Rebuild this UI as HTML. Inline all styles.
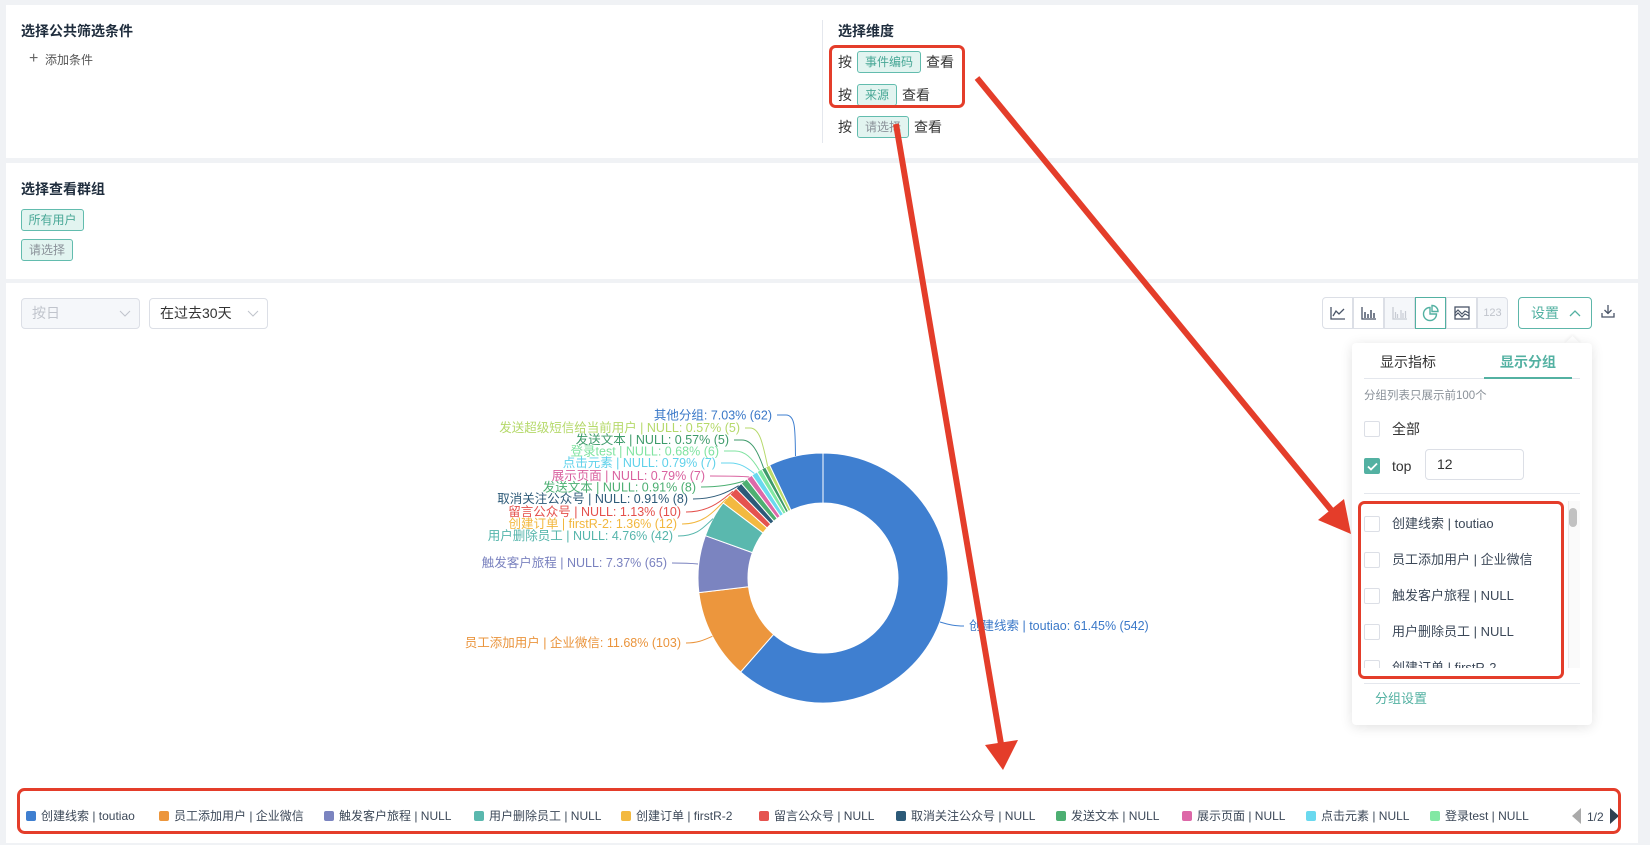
<!DOCTYPE html>
<html><head><meta charset="utf-8">
<style>
*{box-sizing:border-box}
body{margin:0;width:1650px;height:845px;background:#f0f2f5;position:relative;overflow:hidden;font-family:"Liberation Sans","Noto Sans CJK SC",sans-serif;color:#333}
.a{position:absolute;white-space:nowrap}
.panel{position:absolute;left:6px;width:1632px;background:#fff}
.h{font-size:14px;font-weight:bold;color:#1f2d3d;line-height:20px}
.tag{position:absolute;height:22px;line-height:20px;font-size:12px;border:1px solid #62bcae;background:#e2f4f0;color:#48a796;border-radius:3px;text-align:center}
.tag.g{color:#8a9199}
.t14{font-size:14px;line-height:20px;color:#333}
.sel{position:absolute;height:31px;border:1px solid #dcdfe6;border-radius:4px;font-size:14px;line-height:29px;padding-left:10px}
.btn{position:absolute;top:297px;width:31px;height:32px;border:1px solid #dcdfe6;background:#fff}
.cb{position:absolute;width:16px;height:16px;border:1px solid #dcdfe6;border-radius:2px;background:#fff}
.lg{position:absolute;top:807px;font-size:12px;line-height:18px;color:#3c4858;white-space:nowrap}
.lg i{position:absolute;left:0;top:4px;width:10px;height:10px;border-radius:2px}
.lg span{position:absolute;left:15px;top:0}
.row{position:absolute;left:12px;height:20px;width:200px}
.row .cb{left:0;top:2px}
.row span{position:absolute;left:28px;top:0;font-size:13px;line-height:20px;color:#3c4858;white-space:nowrap}
</style></head><body>

<!-- panel 1 -->
<div class="panel" style="top:5px;height:153px"></div>
<div class="a h" style="left:21px;top:21px">选择公共筛选条件</div>
<div class="a" style="left:29px;top:49px;font-size:16px;line-height:20px;color:#666">+</div>
<div class="a" style="left:45px;top:50px;font-size:12px;line-height:20px;color:#555">添加条件</div>
<div class="a" style="left:822px;top:20px;width:1px;height:123px;background:#e4e7ed"></div>
<div class="a h" style="left:838px;top:21px">选择维度</div>
<div class="a t14" style="left:838px;top:52px">按</div>
<div class="tag" style="left:857px;top:51px;width:64px">事件编码</div>
<div class="a t14" style="left:926px;top:52px">查看</div>
<div class="a t14" style="left:838px;top:85px">按</div>
<div class="tag" style="left:857px;top:84px;width:40px">来源</div>
<div class="a t14" style="left:902px;top:85px">查看</div>
<div class="a t14" style="left:838px;top:117px">按</div>
<div class="tag g" style="left:857px;top:116px;width:52px">请选择</div>
<div class="a t14" style="left:914px;top:117px">查看</div>

<!-- panel 2 -->
<div class="panel" style="top:163px;height:116px"></div>
<div class="a h" style="left:21px;top:179px">选择查看群组</div>
<div class="tag" style="left:21px;top:209px;width:63px">所有用户</div>
<div class="tag g" style="left:21px;top:239px;width:52px">请选择</div>

<!-- panel 3 -->
<div class="panel" style="top:283px;height:560px"></div>
<div class="sel" style="left:21px;top:298px;width:119px;background:#f5f7fa;color:#c0c4cc">按日
<svg class="a" style="right:8px;top:11px" width="12" height="8"><polyline points="1,1 6,6 11,1" fill="none" stroke="#c0c4cc" stroke-width="1"/></svg></div>
<div class="sel" style="left:149px;top:298px;width:119px;color:#333">在过去30天
<svg class="a" style="right:8px;top:11px" width="12" height="8"><polyline points="1,1 6,6 11,1" fill="none" stroke="#c0c4cc" stroke-width="1"/></svg></div>

<!-- toolbar -->
<div class="btn" style="left:1322px;border-radius:4px 0 0 4px"><svg width="29" height="30"><path d="M8 9V21H22" fill="none" stroke="#4a5568" stroke-width="1.3"/><polyline points="10,18 13,13 16,16 21,11" fill="none" stroke="#4a5568" stroke-width="1.3"/></svg></div>
<div class="btn" style="left:1353px"><svg width="29" height="30"><path d="M8 9V21H22" fill="none" stroke="#4a5568" stroke-width="1.3"/><path d="M11 20V14M14 20V16M17 20V12M20 20V15" stroke="#4a5568" stroke-width="1.5"/></svg></div>
<div class="btn" style="left:1384px;background:#f5f7fa"><svg width="29" height="30"><path d="M8 9V21H22" fill="none" stroke="#c8ccd4" stroke-width="1.3"/><path d="M10.5 20V14M12.5 20V16M16 20V12M18 20V15M20.5 20V13" stroke="#c8ccd4" stroke-width="1.2"/></svg></div>
<div class="btn" style="left:1415px;border-color:#53b1a2;z-index:2"><svg width="29" height="30"><path d="M14 9.5A6.5 6.5 0 1 0 20.5 16H14Z" fill="none" stroke="#53b1a2" stroke-width="1.4"/><path d="M16 7.5A6 6 0 0 1 22 13.5H16Z" fill="none" stroke="#53b1a2" stroke-width="1.4"/></svg></div>
<div class="btn" style="left:1446px"><svg width="29" height="30"><rect x="8" y="9" width="14" height="12" fill="none" stroke="#4a5568" stroke-width="1.3"/><polyline points="8,15 11,12 15,16 18,13 22,15" fill="none" stroke="#4a5568" stroke-width="1.2"/><polyline points="8,18 11,15 15,19 18,16 22,18" fill="none" stroke="#4a5568" stroke-width="1.2"/></svg></div>
<div class="btn" style="left:1477px;background:#f5f7fa;border-radius:0 4px 4px 0;font-size:11px;line-height:30px;text-align:center;color:#c0c4cc">123</div>
<div class="a" style="left:1518px;top:297px;width:74px;height:32px;border:1px solid #5db6a9;border-radius:4px;font-size:14px;line-height:30px;color:#53b1a2;padding-left:12px">设置
<svg class="a" style="left:50px;top:11px" width="12" height="8"><polyline points="1,7 6,2 11,7" fill="none" stroke="#53b1a2" stroke-width="1.3"/></svg></div>
<svg class="a" style="left:1600px;top:303px" width="16" height="16"><path d="M8 2V10M4.5 7L8 10.5L11.5 7M2 10V14H14V10" fill="none" stroke="#4a5568" stroke-width="1.3"/></svg>

<!-- donut chart -->
<svg class="a" style="left:0;top:0" width="1650" height="845">
<g stroke="#fff" stroke-width="1" stroke-linejoin="round">
<path fill="#3f7fd0" d="M823,453 A125,125 0 1 1 740.61,672.01 L773.57,634.41 A75,75 0 1 0 823,503 Z"/>
<path fill="#ec963d" d="M740.61,672.01 A125,125 0 0 1 698.86,592.66 L748.52,586.80 A75,75 0 0 0 773.57,634.41 Z"/>
<path fill="#7b84c0" d="M698.86,592.66 A125,125 0 0 1 705.39,535.66 L752.43,552.60 A75,75 0 0 0 748.52,586.80 Z"/>
<path fill="#5ab8ae" d="M705.39,535.66 A125,125 0 0 1 723.10,502.89 L763.06,532.93 A75,75 0 0 0 752.43,552.60 Z"/>
<path fill="#f3b940" d="M723.10,502.89 A125,125 0 0 1 729.87,494.62 L767.12,527.97 A75,75 0 0 0 763.06,532.93 Z"/>
<path fill="#e5534f" d="M729.87,494.62 A125,125 0 0 1 736.04,488.21 L770.82,524.13 A75,75 0 0 0 767.12,527.97 Z"/>
<path fill="#2c5a78" d="M736.04,488.21 A125,125 0 0 1 741.29,483.40 L773.97,521.24 A75,75 0 0 0 770.82,524.13 Z"/>
<path fill="#4daf72" d="M741.29,483.40 A125,125 0 0 1 746.81,478.90 L777.29,518.54 A75,75 0 0 0 773.97,521.24 Z"/>
<path fill="#dd68a8" d="M746.81,478.90 A125,125 0 0 1 751.85,475.21 L780.31,516.33 A75,75 0 0 0 777.29,518.54 Z"/>
<path fill="#6ad9ef" d="M751.85,475.21 A125,125 0 0 1 757.06,471.81 L783.44,514.29 A75,75 0 0 0 780.31,516.33 Z"/>
<path fill="#82e8a4" d="M757.06,471.81 A125,125 0 0 1 761.65,469.09 L786.19,512.65 A75,75 0 0 0 783.44,514.29 Z"/>
<path fill="#3d9a6a" d="M761.65,469.09 A125,125 0 0 1 765.57,466.97 L788.54,511.38 A75,75 0 0 0 786.19,512.65 Z"/>
<path fill="#bcdc6a" d="M765.57,466.97 A125,125 0 0 1 769.57,465.00 L790.94,510.20 A75,75 0 0 0 788.54,511.38 Z"/>
<path fill="#3f7fd0" d="M769.57,465.00 A125,125 0 0 1 823,453 L823,503 A75,75 0 0 0 790.94,510.20 Z"/>
</g>
<g fill="none" stroke-width="1">
<path stroke="#3f7fd0" d="M795.5,456 C795,432 796,415 786,415 L777,415"/>
<path stroke="#b5d96a" d="M767.6,466 C763,445 760,428 750,428 L745,428"/>
<path stroke="#3d9a6a" d="M763.6,468 C758,452 752,440 742,440 L734,440"/>
<path stroke="#7fe3a0" d="M759.4,470.4 C752,458 745,451 735,451 L724,451"/>
<path stroke="#66d6ee" d="M754.4,473.5 C746,467 740,463 730,463 L721,463"/>
<path stroke="#d9619f" d="M749.3,477 C740,476 725,476 710,476"/>
<path stroke="#4caf72" d="M744,481 C735,484 720,487 701,487"/>
<path stroke="#2d5a78" d="M738.7,485.7 C728,492 715,499 693,499"/>
<path stroke="#e4504c" d="M732.9,491.3 C722,500 710,512 686,512"/>
<path stroke="#f2b73e" d="M726.4,498.7 C715,510 705,524 682,524"/>
<path stroke="#55b5ab" d="M713,518.6 C703,528 697,536 678,536"/>
<path stroke="#7a82bf" d="M698,564 C688,563 680,563 672,563"/>
<path stroke="#ea943c" d="M712.4,636.3 C704,640 698,643 686,643"/>
<path stroke="#3f7fd0" d="M940,622 C950,625 955,626 964,626"/>
</g>
<g font-size="12.5" font-family="Liberation Sans, Noto Sans CJK SC, sans-serif" text-anchor="end">
<text x="772" y="419.5" fill="#3a78c8">其他分组: 7.03% (62)</text>
<text x="740" y="432" fill="#b5d96a">发送超级短信给当前用户 | NULL: 0.57% (5)</text>
<text x="729" y="444" fill="#3d9a6a">发送文本 | NULL: 0.57% (5)</text>
<text x="719" y="455.5" fill="#7fe3a0">登录test | NULL: 0.68% (6)</text>
<text x="716" y="467" fill="#5fd1ea">点击元素 | NULL: 0.79% (7)</text>
<text x="705" y="480" fill="#d9619f">展示页面 | NULL: 0.79% (7)</text>
<text x="696" y="491.5" fill="#4caf72">发送文本 | NULL: 0.91% (8)</text>
<text x="688" y="503" fill="#2d5a78">取消关注公众号 | NULL: 0.91% (8)</text>
<text x="681" y="516" fill="#e4504c">留言公众号 | NULL: 1.13% (10)</text>
<text x="677" y="528" fill="#f2b73e">创建订单 | firstR-2: 1.36% (12)</text>
<text x="673" y="540" fill="#55b5ab">用户删除员工 | NULL: 4.76% (42)</text>
<text x="667" y="567" fill="#7a82bf">触发客户旅程 | NULL: 7.37% (65)</text>
<text x="681" y="647" fill="#ea943c">员工添加用户 | 企业微信: 11.68% (103)</text>
<text x="969" y="630" fill="#3a78c8" text-anchor="start">创建线索 | toutiao: 61.45% (542)</text>
</g>
</svg>

<!-- legend -->
<div class="lg" style="left:26px"><i style="background:#3f7fd0"></i><span>创建线索 | toutiao</span></div>
<div class="lg" style="left:159px"><i style="background:#ec963d"></i><span>员工添加用户 | 企业微信</span></div>
<div class="lg" style="left:324px"><i style="background:#7b84c0"></i><span>触发客户旅程 | NULL</span></div>
<div class="lg" style="left:474px"><i style="background:#5ab8ae"></i><span>用户删除员工 | NULL</span></div>
<div class="lg" style="left:621px"><i style="background:#f3b940"></i><span>创建订单 | firstR-2</span></div>
<div class="lg" style="left:759px"><i style="background:#e5534f"></i><span>留言公众号 | NULL</span></div>
<div class="lg" style="left:896px"><i style="background:#2c5a78"></i><span>取消关注公众号 | NULL</span></div>
<div class="lg" style="left:1056px"><i style="background:#4daf72"></i><span>发送文本 | NULL</span></div>
<div class="lg" style="left:1182px"><i style="background:#dd68a8"></i><span>展示页面 | NULL</span></div>
<div class="lg" style="left:1306px"><i style="background:#6ad9ef"></i><span>点击元素 | NULL</span></div>
<div class="lg" style="left:1430px"><i style="background:#82e8a4"></i><span>登录test | NULL</span></div>
<svg class="a" style="left:1570px;top:808px" width="52" height="18">
<polygon points="2,8 11,0 11,16" fill="#aaaaaa"/>
<text x="17" y="13" font-size="12" font-family="Liberation Sans, sans-serif" fill="#3c4858">1/2</text>
<polygon points="49,8 40,0 40,16" fill="#2f4050"/>
</svg>

<!-- dropdown card -->
<div class="a" style="left:1567px;top:338px;width:11px;height:11px;background:#fff;transform:rotate(45deg);box-shadow:-1px -1px 3px rgba(0,0,0,0.06)"></div>
<div class="a" style="left:1352px;top:343px;width:240px;height:382px;background:#fff;border-radius:4px;box-shadow:0 2px 12px rgba(0,0,0,0.12)">
  <div class="a" style="left:28px;top:9px;font-size:14px;line-height:20px;color:#333">显示指标</div>
  <div class="a" style="left:148px;top:9px;font-size:14px;line-height:20px;color:#53b1a2;font-weight:bold">显示分组</div>
  <div class="a" style="left:12px;top:35px;width:216px;height:1px;background:#e4e7ed"></div>
  <div class="a" style="left:132px;top:34px;width:88px;height:2px;background:#53b1a2"></div>
  <div class="a" style="left:12px;top:44px;font-size:11.5px;line-height:18px;color:#8a9199">分组列表只展示前100个</div>
  <div class="cb" style="left:12px;top:78px"></div>
  <div class="a" style="left:40px;top:76px;font-size:14px;line-height:20px;color:#333">全部</div>
  <div class="cb" style="left:12px;top:115px;background:#53b1a2;border-color:#53b1a2"><svg class="a" style="left:2px;top:3px" width="11" height="9"><polyline points="1,4.5 4,7.5 10,1.5" fill="none" stroke="#fff" stroke-width="1.8"/></svg></div>
  <div class="a" style="left:40px;top:113px;font-size:14px;line-height:20px;color:#333">top</div>
  <div class="a" style="left:73px;top:106px;width:99px;height:31px;border:1px solid #dcdfe6;border-radius:4px;font-size:14px;line-height:29px;padding-left:11px;color:#333">12</div>
  <div class="a" style="left:12px;top:150px;width:216px;height:1px;background:#e4e7ed"></div>
  <div class="a" style="left:0;top:158px;width:228px;height:167px;overflow:hidden">
    <div class="row" style="top:13px"><div class="cb"></div><span>创建线索 | toutiao</span></div>
    <div class="row" style="top:49px"><div class="cb"></div><span>员工添加用户 | 企业微信</span></div>
    <div class="row" style="top:85px"><div class="cb"></div><span>触发客户旅程 | NULL</span></div>
    <div class="row" style="top:121px"><div class="cb"></div><span>用户删除员工 | NULL</span></div>
    <div class="row" style="top:157px"><div class="cb"></div><span>创建订单 | firstR-2</span></div>
    <div class="a" style="left:216px;top:0;width:12px;height:167px;background:#fafafa;border-left:1px solid #ececec"></div>
    <div class="a" style="left:217px;top:7px;width:8px;height:19px;background:#c1c1c1;border-radius:4px"></div>
  </div>
  <div class="a" style="left:12px;top:340px;width:216px;height:1px;background:#e4e7ed"></div>
  <div class="a" style="left:23px;top:346px;font-size:13px;line-height:20px;color:#53b1a2">分组设置</div>
</div>

<!-- annotations -->
<svg class="a" style="left:0;top:0;z-index:10" width="1650" height="845">
<g fill="none" stroke="#e43d2a" stroke-width="3">
<rect x="830.5" y="46.5" width="133" height="60" rx="5"/>
<rect x="1359.5" y="502.5" width="203" height="175" rx="5"/>
<rect x="18.5" y="789.5" width="1601" height="43" rx="6"/>
</g>
<g stroke="#e43d2a" stroke-width="6" stroke-linecap="butt">
<line x1="977" y1="78" x2="1332" y2="511"/>
<line x1="896" y1="124" x2="1001" y2="744"/>
</g>
<g fill="#e43d2a">
<polygon points="1351,534 1344,499 1318,520"/>
<polygon points="1003,770 1018,740 985,745"/>
</g>
</svg>
</body></html>
